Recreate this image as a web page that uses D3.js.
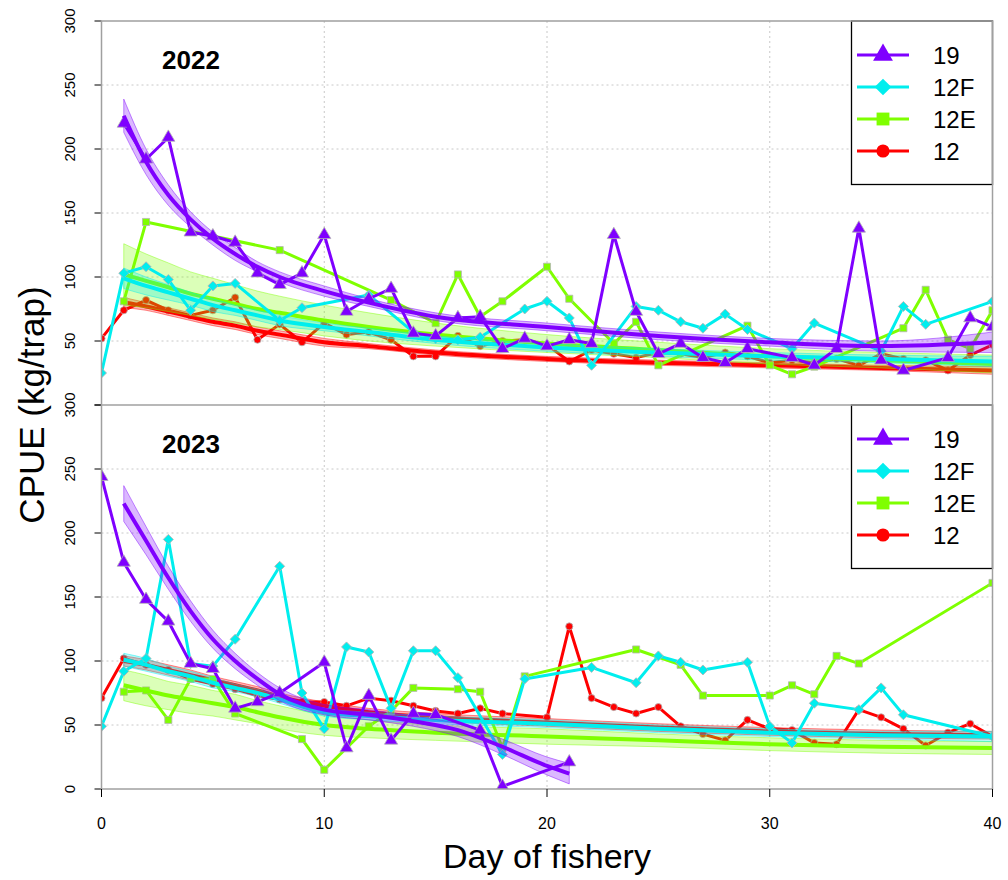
<!DOCTYPE html>
<html>
<head>
<meta charset="utf-8">
<script src="https://cdn.jsdelivr.net/npm/d3@7"></script>
<style>
  body { margin: 0; background: #fff; }
  svg { display: block; font-family: Arial, "Liberation Sans", sans-serif; }
</style>
</head>
<body>
<svg id="chart" width="1008" height="880"></svg>
<script>
// ---- data: [day, CPUE] ----
var seriesNames  = ["19", "12F", "12E", "12"];
var seriesColors = ["#7f00ff", "#00eeee", "#7fff00", "#ff0000"];
var dayTicks  = [0, 10, 20, 30, 40];
var cpueTicks = [0, 50, 100, 150, 200, 250, 300];

// 2022
var obs22_19 = [[1,220],[2,192],[3,209],[4,135],[5,132],[6,127],[7,103],[8,94],[9,103],[10,133],
  [11,73],[12,83],[13,91],[14,56],[15,54],[16,68],[17,69],[18,44],[19,52],[20,46],[21,51],[22,48],
  [23,133],[24,73],[25,40],[26,48],[27,37],[28,33],[29,44],[31,37],[32,31],[33,44],[34,138],[35,35],
  [36,27],[38,37],[39,68],[40,61]];
var obs22_12F = [[0,25],[1,103],[2,108],[3,98],[4,74],[5,93],[6,95],[8,66],[9,76],[12,86],[14,57],
  [15,52],[16,51],[17,53],[19,75],[20,81],[21,68],[22,31],[24,77],[25,74],[26,65],[27,60],[28,71],
  [29,59],[31,44],[32,64],[35,42],[36,77],[37,63],[40,81]];
var obs22_12E = [[1,81],[2,143],[8,121],[13,82],[15,64],[16,102],[17,69],[18,81],[20,108],[21,83],
  [23,48],[24,65],[25,31],[29,62],[30,31],[31,24],[32,30],[36,60],[37,90],[38,51],[39,44],[40,74]];
var obs22_12 = [[0,52],[1,74],[2,82],[3,74],[4,70],[5,74],[6,84],[7,51],[8,63],[9,49],[10,64],
  [11,55],[12,57],[13,51],[14,38],[15,38],[16,54],[17,46],[18,50],[19,51],[20,47],[21,34],[22,43],
  [23,40],[24,37],[25,41],[26,40],[27,37],[28,41],[29,38],[30,33],[31,35],[32,33],[33,36],[34,31],
  [35,40],[36,36],[37,35],[38,27],[39,39],[40,47]];

// 2023
var obs23_19 = [[0,244],[1,177],[2,148],[3,131],[4,98],[5,94],[6,63],[7,68],[8,75],[10,99],[11,32],
  [12,73],[13,38],[14,59],[15,58],[17,46],[18,2],[21,21]];
var obs23_12F = [[0,49],[1,92],[2,102],[3,195],[4,98],[5,96],[6,117],[8,174],[9,75],[10,47],[11,111],
  [12,107],[13,63],[14,108],[15,108],[16,87],[18,27],[19,86],[22,95],[24,83],[25,104],[26,99],
  [27,93],[29,99],[30,49],[31,36],[32,67],[34,62],[35,79],[36,58],[40,41]];
var obs23_12E = [[1,76],[2,77],[3,54],[4,86],[5,86],[6,59],[9,39],[10,15],[12,49],[13,61],[14,79],
  [16,78],[17,76],[18,32],[19,88],[24,109],[26,97],[27,73],[30,73],[31,81],[32,74],[33,104],
  [34,98],[40,161]];
var obs23_12 = [[0,71],[1,102],[2,97],[3,93],[4,86],[5,82],[6,78],[7,73],[8,70],[9,68],[10,68],
  [11,65],[12,71],[13,69],[14,65],[15,61],[16,59],[17,63],[18,59],[20,56],[21,127],[22,71],[23,64],
  [24,59],[25,64],[26,49],[27,43],[28,38],[29,54],[30,47],[31,46],[32,36],[33,35],[34,62],[35,56],
  [36,47],[37,34],[38,44],[39,51],[40,41]];

// fitted trends: fitted value and half-width of the band at these days
var fitDays   = [1, 2, 3, 4, 5, 6, 7, 8, 10, 12, 15, 20, 25, 30, 35, 40];
var fit22_19  = [226, 190, 164, 145, 130, 118, 108, 100, 89, 80, 69, 61, 54, 49, 46, 49];
var band22_19 = [13, 10, 8, 6, 5, 5, 4, 4, 4, 3, 3, 3, 3, 3, 4, 8];
var fit22_12F  = [99, 93, 88, 83, 78, 74, 70, 66, 61, 57, 51, 45, 41, 38, 36, 34];
var band22_12F = [8, 7, 6, 5, 5, 4, 4, 4, 3, 3, 3, 3, 3, 3, 3, 4];
var fit22_12E  = [102, 97, 92, 87, 83, 79, 75, 72, 66, 61, 55, 48, 43, 38, 35, 32];
var band22_12E = [24, 21, 19, 17, 16, 15, 14, 13, 12, 11, 9, 7, 6, 6, 6, 7];
var fit22_12   = [80, 77, 73, 69, 65, 62, 58, 55, 49, 46, 41, 36, 33, 31, 29, 27];
var band22_12  = [4, 3, 3, 3, 3, 3, 3, 3, 3, 2, 2, 2, 2, 2, 2, 3];

var fitDays23_19 = [1, 2, 3, 4, 5, 6, 7, 8, 10, 12, 14, 16, 18, 20, 21];
var fit23_19     = [223, 194, 165, 139, 117, 100, 86, 74, 62, 58, 53, 46, 33, 18, 12];
var band23_19    = [14, 11, 9, 8, 7, 6, 5, 5, 4, 4, 4, 5, 6, 7, 8];
var fit23_12F  = [101, 97, 92, 88, 83, 79, 75, 70, 60, 57, 54, 51, 47, 44, 42, 41];
var band23_12F = [5, 5, 4, 4, 4, 3, 3, 3, 3, 3, 3, 3, 3, 3, 3, 4];
var fit23_12E  = [81, 77, 73, 70, 67, 64, 60, 56, 50, 47, 44, 41, 38, 35, 33, 32];
var band23_12E = [12, 12, 11, 11, 10, 10, 9, 9, 8, 7, 6, 6, 5, 5, 5, 5];
var fit23_12   = [100, 97, 93, 89, 85, 81, 77, 72, 65, 60, 56, 52, 48, 45, 43, 42];
var band23_12  = [4, 4, 4, 4, 3, 3, 3, 3, 3, 3, 3, 3, 3, 3, 3, 3];

// ---- layout ----
var svg = d3.select("#chart");
var left = 101.5, right = 992.5;
var x = d3.scaleLinear().domain([0, 40]).range([left, right]);

var panels = [
  { year: "2022", top: 21, bottom: 405,
    obs: [obs22_19, obs22_12F, obs22_12E, obs22_12],
    fits: [[fitDays, fit22_19, band22_19], [fitDays, fit22_12F, band22_12F],
           [fitDays, fit22_12E, band22_12E], [fitDays, fit22_12, band22_12]] },
  { year: "2023", top: 405, bottom: 789,
    obs: [obs23_19, obs23_12F, obs23_12E, obs23_12],
    fits: [[fitDays23_19, fit23_19, band23_19], [fitDays, fit23_12F, band23_12F],
           [fitDays, fit23_12E, band23_12E], [fitDays, fit23_12, band23_12]] }
];

// marker shapes: triangle, diamond, square, circle
function markerPath(i, big) {
  var types = [d3.symbolTriangle, d3.symbolSquare, d3.symbolSquare, d3.symbolCircle];
  var small = [75, 50, 50, 40];
  var large = [170, 140, 165, 135];
  return d3.symbol().type(types[i]).size(big ? large[i] : small[i])();
}
function markerRot(i) { return i === 1 ? " rotate(45)" : ""; }

svg.append("defs").append("clipPath").attr("id", "plotClip")
  .append("rect").attr("x", left).attr("y", 21).attr("width", right - left).attr("height", 789 - 21);

panels.forEach(function (p, pi) {
  var y = d3.scaleLinear().domain([0, 300]).range([p.bottom, p.top]);
  var g = svg.append("g");

  // dotted grid
  g.selectAll(".hgrid").data([50, 100, 150, 200, 250]).enter().append("line")
    .attr("x1", left).attr("x2", right)
    .attr("y1", function (d) { return y(d); }).attr("y2", function (d) { return y(d); })
    .attr("stroke", "#c8c8c8").attr("stroke-dasharray", "2,3");
  g.selectAll(".vgrid").data([10, 20, 30]).enter().append("line")
    .attr("x1", function (d) { return x(d); }).attr("x2", function (d) { return x(d); })
    .attr("y1", p.top).attr("y2", p.bottom)
    .attr("stroke", "#c8c8c8").attr("stroke-dasharray", "2,3");

  var plot = g.append("g").attr("clip-path", "url(#plotClip)");

  var line = d3.line()
    .x(function (d) { return x(d[0]); }).y(function (d) { return y(d[1]); });
  var fitLine = d3.line().curve(d3.curveMonotoneX)
    .x(function (d) { return x(d.day); }).y(function (d) { return y(d.fit); });
  var bandArea = d3.area().curve(d3.curveMonotoneX)
    .x(function (d) { return x(d.day); })
    .y0(function (d) { return y(d.fit - d.hw); })
    .y1(function (d) { return y(d.fit + d.hw); });

  // draw 12, 12E, 12F, 19 so that later series sit on top
  [3, 2, 1, 0].forEach(function (si) {
    var col = seriesColors[si];
    var obs = p.obs[si];
    var f = p.fits[si];
    var fitData = f[0].map(function (day, k) { return { day: day, fit: f[1][k], hw: f[2][k] }; });

    plot.append("path").datum(obs).attr("d", line)
      .attr("fill", "none").attr("stroke", col).attr("stroke-width", 3)
      .attr("stroke-linejoin", "round");
    plot.selectAll(".m" + si).data(obs).enter().append("path")
      .attr("d", markerPath(si, false))
      .attr("transform", function (d) { return "translate(" + x(d[0]) + "," + y(d[1]) + ")" + markerRot(si); })
      .attr("fill", col).attr("stroke", "#b4b4b4").attr("stroke-width", 0.8);

    plot.append("path").datum(fitData).attr("d", bandArea)
      .attr("fill", col).attr("fill-opacity", 0.28)
      .attr("stroke", col).attr("stroke-opacity", 0.45).attr("stroke-width", 1);
    plot.append("path").datum(fitData).attr("d", fitLine)
      .attr("fill", "none").attr("stroke", col).attr("stroke-width", 4);
  });

  // year label
  g.append("text").attr("x", 191).attr("y", p.top + 48)
    .attr("text-anchor", "middle").attr("font-weight", "bold").attr("font-size", 26)
    .text(p.year);

  // legend
  var lg = g.append("g");
  lg.append("rect").attr("x", 851.5).attr("y", p.top).attr("width", right - 851.5).attr("height", 163.5)
    .attr("fill", "#fff").attr("stroke", "#000").attr("stroke-width", 1.3);
  seriesNames.forEach(function (name, si) {
    var ly = p.top + 34 + si * 32;
    lg.append("line").attr("x1", 857).attr("x2", 909).attr("y1", ly).attr("y2", ly)
      .attr("stroke", seriesColors[si]).attr("stroke-width", 3);
    lg.append("path").attr("d", markerPath(si, true))
      .attr("transform", "translate(883," + ly + ")" + markerRot(si))
      .attr("fill", seriesColors[si]);
    lg.append("text").attr("x", 933).attr("y", ly).attr("dy", "0.36em")
      .attr("font-size", 24).text(name);
  });

  // y axis ticks + labels (rotated)
  var ticks = pi === 0 ? cpueTicks.slice(1) : cpueTicks;
  g.selectAll(".yt").data(cpueTicks).enter().append("line")
    .attr("x1", left - 7).attr("x2", left)
    .attr("y1", function (d) { return y(d); }).attr("y2", function (d) { return y(d); })
    .attr("stroke", "#000").attr("stroke-width", 1);
  g.selectAll(".yl").data(ticks).enter().append("text")
    .attr("transform", function (d) { return "translate(75," + y(d) + ") rotate(-90)"; })
    .attr("text-anchor", "middle").attr("font-size", 15)
    .text(function (d) { return d; });
});

// plot frame
svg.append("rect").attr("x", left).attr("y", 21).attr("width", right - left).attr("height", 789 - 21)
  .attr("fill", "none").attr("stroke", "#a0a0a0").attr("stroke-width", 1.5);
svg.append("line").attr("x1", left).attr("x2", right).attr("y1", 405).attr("y2", 405)
  .attr("stroke", "#a0a0a0").attr("stroke-width", 1.5);

// x axis
svg.selectAll(".xt").data(dayTicks).enter().append("line")
  .attr("x1", function (d) { return x(d); }).attr("x2", function (d) { return x(d); })
  .attr("y1", 789).attr("y2", 797).attr("stroke", "#000");
svg.selectAll(".xl").data(dayTicks).enter().append("text")
  .attr("x", function (d) { return x(d); }).attr("y", 829)
  .attr("text-anchor", "middle").attr("font-size", 16)
  .text(function (d) { return d; });

// axis titles
svg.append("text").attr("x", (left + right) / 2).attr("y", 868)
  .attr("text-anchor", "middle").attr("font-size", 34).text("Day of fishery");
svg.append("text").attr("transform", "translate(44,405) rotate(-90)")
  .attr("text-anchor", "middle").attr("font-size", 35).text("CPUE (kg/trap)");
</script>
</body>
</html>
